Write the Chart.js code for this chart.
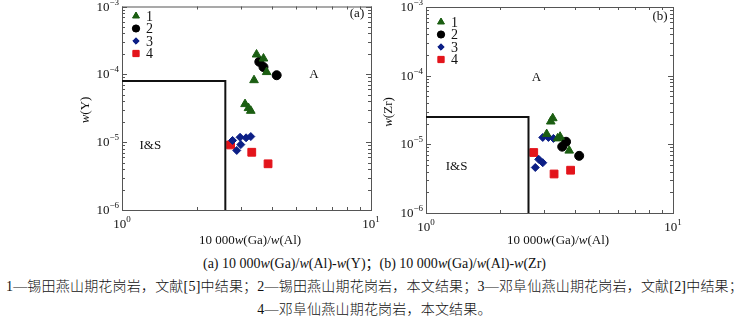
<!DOCTYPE html>
<html>
<head>
<meta charset="utf-8">
<script src="https://cdn.jsdelivr.net/npm/chart.js@4.4.0/dist/chart.umd.min.js"></script>
<style>
  body { margin: 0; background: #fff; }
  #wrap { position: relative; width: 749px; height: 322px; overflow: hidden; }
  canvas { position: absolute; top: 0; }
  .cap { position: absolute; left: 0; width: 749px; text-align: center;
         font-family: "Liberation Serif", "Noto Sans CJK SC", serif; font-size: 14px; color: #111; white-space: nowrap; }
  .cjk { font-weight: 300; letter-spacing: 0.2px; }
</style>
</head>
<body>
<div id="wrap">
  <canvas id="chartA" width="390" height="250" style="left:0"></canvas>
  <canvas id="chartB" width="374" height="250" style="left:375px"></canvas>
  <div class="cap" style="top:252px">(a) 10 000<i>w</i>(Ga)/<i>w</i>(Al)-<i>w</i>(Y)；(b) 10 000<i>w</i>(Ga)/<i>w</i>(Al)-<i>w</i>(Zr)</div>
  <div class="cap cjk" style="top:275px">1—锡田燕山期花岗岩，文献[5]中结果；2—锡田燕山期花岗岩，本文结果；3—邓阜仙燕山期花岗岩，文献[2]中结果；</div>
  <div class="cap cjk" style="top:298px">4—邓阜仙燕山期花岗岩，本文结果。</div>
</div>
<script>
// legend labels
const seriesLabels = ['1', '2', '3', '4'];

// axis tick values
const xMajorTicks = [1, 10];
const yMajorTicks = [1e-6, 1e-5, 1e-4, 1e-3];

// panel (a): 10000Ga/Al vs Y
const aSeries1 = [[3.47, 1.96e-4], [3.70, 1.71e-4], [3.81, 1.08e-4], [3.39, 8.2e-5], [3.12, 3.64e-5], [3.22, 3.18e-5], [3.29, 2.9e-5]];
const aSeries2 = [[3.56, 1.53e-4], [3.70, 1.28e-4], [4.18, 9.7e-5]];
const aSeries3 = [[2.78, 1.06e-5], [2.98, 1.18e-5], [3.15, 1.16e-5], [3.29, 1.21e-5], [3.00, 9.2e-6], [2.89, 7.55e-6]];
const aSeries4 = [[2.73, 9.1e-6], [3.32, 7.1e-6], [3.86, 4.8e-6]];
const aBoundary = [[1, 8e-5], [2.6, 8e-5], [2.6, 1e-6]];

// panel (b): 10000Ga/Al vs Zr
const bSeries1 = [[3.26, 2.4e-5], [3.20, 2.15e-5], [3.08, 1.41e-5], [3.49, 1.29e-5], [3.41, 1.22e-5], [3.80, 8.1e-6]];
const bSeries2 = [[3.69, 1.09e-5], [3.56, 9.25e-6], [4.17, 6.8e-6]];
const bSeries3 = [[2.97, 1.26e-5], [3.13, 1.26e-5], [3.28, 1.22e-5], [2.86, 6.05e-6], [2.97, 5.4e-6], [2.77, 4.6e-6]];
const bSeries4 = [[2.73, 7.6e-6], [3.30, 3.7e-6], [3.85, 4.2e-6]];
const bBoundary = [[1, 2.5e-5], [2.6, 2.5e-5], [2.6, 1e-6]];

const styles = [
  { pointStyle: 'triangle', color: '#1b5e12', radius: 5 },
  { pointStyle: 'circle', color: '#000000', radius: 4.5 },
  { pointStyle: 'rectRot', color: '#0c1f86', radius: 4 },
  { pointStyle: 'rect', color: '#e3141b', radius: 5.5 }
];

const SERIF = '"Liberation Serif", "Times New Roman", serif';

function toPts(arr) {
  return arr.map(p => ({ x: p[0], y: p[1] }));
}

function supText(ctx, base, sup, x, y, align) {
  ctx.font = '13px ' + SERIF;
  const wb = ctx.measureText(base).width;
  ctx.font = '9px ' + SERIF;
  const ws = ctx.measureText(sup).width;
  let x0 = x;
  if (align === 'right') x0 = x - wb - ws;
  if (align === 'center') x0 = x - (wb + ws) / 2;
  ctx.textAlign = 'left';
  ctx.textBaseline = 'alphabetic';
  ctx.font = '13px ' + SERIF;
  ctx.fillText(base, x0, y);
  ctx.font = '9px ' + SERIF;
  ctx.fillText(sup, x0 + wb, y - 6);
}

function richText(ctx, parts, x, y) {
  // parts: [text, italic]
  let w = 0;
  parts.forEach(p => {
    ctx.font = (p[1] ? 'italic ' : '') + '13px ' + SERIF;
    w += ctx.measureText(p[0]).width;
  });
  let cx = x - w / 2;
  ctx.textAlign = 'left';
  parts.forEach(p => {
    ctx.font = (p[1] ? 'italic ' : '') + '13px ' + SERIF;
    ctx.fillText(p[0], cx, y);
    cx += ctx.measureText(p[0]).width;
  });
}

const framePlugin = {
  id: 'frame',
  beforeDatasetsDraw(chart, args, o) {
    const { ctx, chartArea: a, scales } = chart;
    const xs = scales.x, ys = scales.y;
    ctx.save();
    ctx.strokeStyle = '#555';
    ctx.lineWidth = 1;
    ctx.strokeRect(a.left + 0.5, a.top + 0.5, a.right - a.left, a.bottom - a.top);
    // x ticks (inward)
    for (let d = 0; d < xMajorTicks.length - 1; d++) {
      for (let m = 1; m <= 10; m++) {
        const v = xMajorTicks[d] * m;
        const px = Math.round(xs.getPixelForValue(v)) + 0.5;
        const len = (m === 1 || m === 10) ? 5 : 3;
        ctx.beginPath();
        ctx.moveTo(px, a.bottom); ctx.lineTo(px, a.bottom - len);
        ctx.moveTo(px, a.top); ctx.lineTo(px, a.top + len);
        ctx.stroke();
      }
    }
    for (let d = 0; d < yMajorTicks.length - 1; d++) {
      for (let m = 1; m <= 10; m++) {
        const v = yMajorTicks[d] * m;
        const py = Math.round(ys.getPixelForValue(v)) + 0.5;
        const len = (m === 1 || m === 10) ? 5 : 3;
        ctx.beginPath();
        ctx.moveTo(a.left, py); ctx.lineTo(a.left + len, py);
        ctx.moveTo(a.right, py); ctx.lineTo(a.right - len, py);
        ctx.stroke();
      }
    }
    ctx.fillStyle = '#111';
    // tick labels
    xMajorTicks.forEach(v => {
      const exp = Math.round(Math.log10(v));
      supText(ctx, '10', String(exp).replace('-', '\u2212'), xs.getPixelForValue(v), a.bottom + 18, 'center');
    });
    yMajorTicks.forEach(v => {
      const exp = Math.round(Math.log10(v));
      supText(ctx, '10', String(exp).replace('-', '\u2212'), a.left - 3, ys.getPixelForValue(v) + 4, 'right');
    });
    // axis titles
    ctx.textBaseline = 'alphabetic';
    richText(ctx, [['10 000', false], ['w', true], ['(Ga)/', false], ['w', true], ['(Al)', false]], o.xTitleX, o.xTitleY);
    ctx.save();
    ctx.translate(o.yTitleX, o.yTitleY);
    ctx.rotate(-Math.PI / 2);
    richText(ctx, [['w', true], [o.yName, false]], 0, 0);
    ctx.restore();
    // field labels
    ctx.font = '13px ' + SERIF;
    ctx.textAlign = 'center';
    ctx.textBaseline = 'middle';
    o.fields.forEach(f => {
      ctx.fillText(f.text, xs.getPixelForValue(f.x), ys.getPixelForValue(f.y));
    });
    ctx.fillText(o.panel, o.panelX, o.panelY);
    // legend
    ctx.textAlign = 'left';
    seriesLabels.forEach((lab, i) => {
      const s = styles[i];
      const ly = o.legendY + i * o.legendGap;
      ctx.fillStyle = s.color;
      ctx.strokeStyle = s.color;
      Chart.helpers.drawPoint(ctx, { pointStyle: s.pointStyle, radius: s.radius * 0.8, borderWidth: 1 }, o.legendX, ly);
      ctx.fill();
      ctx.fillStyle = '#111';
      ctx.font = '14px ' + SERIF;
      ctx.fillText(lab, o.legendX + 10, ly + 1);
    });
    ctx.restore();
  }
};

function makePanel(id, series, boundary, o) {
  const datasets = series.map((arr, i) => ({
    label: seriesLabels[i],
    data: toPts(arr),
    pointStyle: styles[i].pointStyle,
    pointRadius: styles[i].radius,
    backgroundColor: styles[i].color,
    borderColor: styles[i].color,
    borderWidth: 1,
    showLine: false
  }));
  datasets.unshift({
    label: 'boundary',
    data: toPts(boundary),
    showLine: true,
    pointRadius: 0,
    borderColor: '#111',
    borderWidth: 2,
    fill: false
  });
  return new Chart(document.getElementById(id).getContext('2d'), {
    type: 'scatter',
    data: { datasets: datasets },
    options: {
      responsive: false,
      animation: false,
      layout: { padding: o.padding },
      plugins: { legend: { display: false }, tooltip: { enabled: false }, frame: o },
      scales: {
        x: { type: 'logarithmic', min: 1, max: 10, display: false },
        y: { type: 'logarithmic', min: 1e-6, max: 1e-3, display: false }
      }
    },
    plugins: [framePlugin]
  });
}

makePanel('chartA', [aSeries1, aSeries2, aSeries3, aSeries4], aBoundary, {
  padding: { left: 122, right: 19, top: 5, bottom: 40 },
  xTitleX: 250, xTitleY: 244,
  yTitleX: 89, yTitleY: 110, yName: '(Y)',
  fields: [{ text: 'A', x: 5.9, y: 1e-4 }, { text: 'I&S', x: 1.3, y: 8.9e-6 }],
  panel: '(a)', panelX: 357, panelY: 14,
  legendX: 136, legendY: 16, legendGap: 12.5
});

makePanel('chartB', [bSeries1, bSeries2, bSeries3, bSeries4], bBoundary, {
  padding: { left: 51, right: 76, top: 7, bottom: 37 },
  xTitleX: 183, xTitleY: 244,
  yTitleX: 17, yTitleY: 112, yName: '(Zr)',
  fields: [{ text: 'A', x: 2.8, y: 9.4e-5 }, { text: 'I&S', x: 1.33, y: 4.7e-6 }],
  panel: '(b)', panelX: 285, panelY: 17,
  legendX: 66, legendY: 22, legendGap: 12.5
});
</script>
</body>
</html>
